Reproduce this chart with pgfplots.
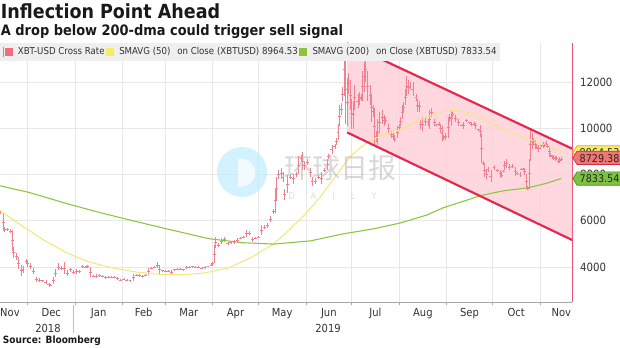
\documentclass[border=0pt]{standalone}
\usepackage{pgfplots}
\pgfplotsset{compat=1.18}
\usepackage{pgfplotstable}
\usepackage{fontspec}
\setmainfont{DejaVu Sans Condensed}
\newfontfamily\cjk{Noto Sans CJK SC}
\definecolor{gridc}{HTML}{E8E8E8}
\definecolor{barc}{HTML}{F08090}
\definecolor{chanfill}{HTML}{FFD0D8}
\definecolor{chanline}{HTML}{E2284E}
\definecolor{smay}{HTML}{F2E880}
\definecolor{smag}{HTML}{8CC43C}
\definecolor{legbg}{HTML}{EFEFEF}
\definecolor{txt}{HTML}{333333}
\definecolor{boxy}{HTML}{F6EC6A}
\definecolor{boxyd}{HTML}{C8B820}
\definecolor{boxr}{HTML}{F27474}
\definecolor{boxrd}{HTML}{C83040}
\definecolor{boxg}{HTML}{7CC242}
\definecolor{boxgd}{HTML}{4E8A20}

\pgfplotstableread{
x lo hi
-49 6280 6450
-47 5550 6350
-46 5500 5750
-44 5550 5700
-42 5450 5650
-41 4700 5600
-40 4400 4850
-38 4300 4600
-37 3900 4450
-35 3600 4100
-34 3750 4050
-32 4150 4350
-31 4000 4300
-29 3900 4150
-27 3700 3950
-25 3350 3550
-23 3350 3500
-21 3350 3450
-19 3250 3450
-17 3150 3300
-16 3180 3260
-14 3250 3550
-13 3550 3900
-11 3850 4150
-9 3850 4050
-7 3700 4200
-5 3600 3850
-3 3800 3950
-1 3700 3850
1 3700 3900
3 3750 3850
5 3950 4100
7 3950 4050
8 3950 4100
10 3550 4000
12 3550 3650
14 3500 3700
16 3580 3680
18 3550 3650
20 3480 3600
22 3520 3620
24 3530 3600
26 3500 3600
28 3420 3550
30 3400 3480
32 3420 3520
34 3400 3470
36 3380 3420
38 3380 3700
40 3600 3700
42 3580 3680
44 3550 3650
46 3600 3700
48 3650 3950
50 3900 4000
52 3950 4050
54 3950 4200
55 3700 4100
57 3800 3880
59 3800 3860
61 3800 3850
63 3700 3850
65 3850 3900
67 3880 3950
69 3850 3950
71 3850 3920
73 3900 4050
75 3950 4050
77 3980 4050
79 3970 4030
81 3950 4020
83 3900 4000
85 3900 4050
87 4000 4050
89 4050 4130
90 4080 4200
91 4150 4950
92 4800 5300
94 4850 5050
96 5000 5250
98 5100 5300
100 4950 5100
102 5000 5100
104 5000 5150
106 5050 5250
108 5200 5300
110 5250 5350
112 5300 5600
114 5400 5550
116 5100 5300
118 5200 5300
120 5250 5350
122 5400 5800
124 5650 5800
126 5700 5900
128 5950 6200
130 6300 6500
131 6350 7400
132 6900 7900
133 7800 8200
135 7800 8300
136 7700 8100
137 6900 7400
139 7200 8000
141 7800 8000
143 7600 8050
145 7900 8100
146 8050 8800
148 8550 8850
149 8200 9000
150 8200 8600
152 8400 8700
154 7900 8300
155 7500 7900
157 7600 7850
159 7800 8000
161 7600 8100
163 8100 8300
165 8200 8700
166 8700 8900
168 8900 9300
170 9100 9350
171 9300 9600
172 9500 10200
173 10100 11000
174 10600 11100
175 11200 11800
176 11400 13700
177 10200 13200
178 10100 12200
179 11500 12400
180 10800 12100
181 10000 11300
182 10000 11200
183 10800 11900
185 10900 11500
186 11000 11600
187 11200 11500
188 11200 12500
189 11600 12900
190 12000 13100
191 11200 12500
193 11000 11900
194 10300 11500
195 10500 11000
196 9300 10900
197 9400 9900
198 9300 10400
199 9800 10700
201 10200 10800
202 10100 10600
203 10200 10500
205 9800 10200
207 9600 9900
208 9500 9800
209 9400 9700
211 9600 10100
212 9900 10200
213 10100 10500
214 10400 11000
215 10700 11150
216 11000 11700
217 11400 12300
218 11500 12100
219 11700 12000
221 11400 12000
223 11200 11500
224 10700 11300
225 10700 11200
226 10000 10400
227 9900 10500
229 10100 10500
231 10100 10400
232 10000 10800
233 10500 10900
235 10100 10400
236 10100 10200
238 10100 10300
239 9800 10200
240 9450 10100
241 9500 9700
242 9500 9800
244 9600 10500
245 10300 10650
246 10100 10800
247 10500 10700
249 10300 10600
251 10100 10400
253 10100 10200
254 10000 10300
256 10300 10400
258 10200 10300
259 10100 10300
261 10100 10300
262 10000 10250
264 9900 10000
265 9650 10150
266 8500 9750
267 8400 8600
268 7900 8500
269 7800 8200
270 8100 8350
272 7700 8200
274 8200 8400
276 8100 8250
278 7900 8200
279 7850 8100
280 8100 8200
281 8200 8600
282 8300 8700
284 8200 8450
286 8300 8450
288 7950 8350
289 8000 8100
291 7900 8100
292 8200 8300
293 8200 8300
294 8000 8280
295 7400 8050
296 7350 7500
297 7400 8700
298 8600 10000
299 9100 9800
300 9300 9600
301 9100 9500
302 9100 9300
303 9000 9300
304 9100 9200
305 9200 9350
306 9150 9400
307 9200 9350
308 9300 9450
309 9150 9350
310 8750 9250
311 8750 8950
312 8700 8850
313 8650 8850
314 8600 8800
315 8650 8800
316 8500 8700
317 8500 8750
318 8600 8750
}\bars

\pgfplotstableread{
x v
-49 6450
-35 5800
-20 5150
-5 4600
10 4200
25 3950
40 3780
55 3680
70 3660
85 3740
100 3950
115 4400
130 5000
140 5600
150 6250
160 7000
170 7900
180 8800
190 9350
200 9700
213 9950
228 10450
241 10750
250 10780
260 10650
270 10300
280 9950
290 9700
300 9450
310 9200
318 8965
}\smaA

\pgfplotstableread{
x v
-49 7520
-30 7230
-5 6740
15 6380
38 6000
60 5650
88 5220
110 5050
130 4990
154 5130
175 5430
195 5650
213 5910
230 6250
241 6570
255 6870
265 7090
280 7300
296 7430
308 7620
318 7834
}\smaB

\newcommand{\valbox}[4]{%
  \path (#1) ++(0.6pt,0) coordinate (tip);
  \filldraw[fill=#2, draw=#3, line width=0.5pt] (tip) -- ++(3.2pt,5pt) -- ++(34pt,0) -- ++(0,-10pt) -- ++(-34pt,0) -- cycle;
  \node[anchor=west, inner sep=0pt, font=\fontsize{8}{9}\selectfont, text=black!85] at ([xshift=5pt,yshift=-0.2pt]tip) {#4};
}

\begin{document}
\begin{tikzpicture}
\useasboundingbox (0,0) rectangle (465pt,261pt);
\begin{axis}[
  at={(0pt,34.5pt)}, anchor=south west,
  width=429pt, height=194.25pt, scale only axis,
  xmin=-49, xmax=325, ymin=2480, ymax=13710,
  axis x line*=bottom, axis y line*=right,
  x axis line style={draw=black!35, line width=0.6pt, -},
  y axis line style={draw=chanline!80, line width=0.6pt, -},
  xtick={-31,0,31,59,90,120,151,181,212,243,273,304},
  xticklabels={},
  tick align=outside,
  xtick style={draw=black!35, line width=0.5pt},
  major tick length=2.5pt,
  extra x ticks={-42.5,-15.5,15.5,45,74.5,105,135.5,166,196.5,227.5,258,288.5,318},
  extra x tick labels={Nov,Dec,Jan,Feb,Mar,Apr,May,Jun,Jul,Aug,Sep,Oct,Nov},
  extra x tick style={grid=none, major tick length=0pt,
     tick label style={font=\fontsize{8.3}{9}\selectfont, text=txt, yshift=-1pt}},
  ytick={4000,6000,8000,10000,12000},
  ytick style={draw=none},
  yticklabel style={font=\fontsize{8.5}{9}\selectfont, text=txt, xshift=0pt},
  scaled y ticks=false,
  grid=major, major grid style={draw=gridc, line width=0.5pt},
  legend style={at={(0,1)}, anchor=north west, fill=legbg, draw=none,
     font=\fontsize{7.2}{8}\selectfont, text=txt, inner xsep=2pt, inner ysep=1.5pt,
     nodes={inner xsep=0.6pt, inner ysep=1.6pt},
     /tikz/every odd column/.append style={column sep=3.5pt},
     /tikz/every even column/.append style={column sep=0.5pt},
     legend cell align=left},
  legend columns=3,
  /pgf/number format/1000 sep={},
  /pgf/number format/assume math mode=true,
]
\addplot[fill=chanfill, draw=none, fill opacity=0.85, forget plot] coordinates {(178,13700) (325,9130) (325,5170) (178,9830)} -- cycle;

\addplot[barc, only marks, mark=-, mark size=1.1pt, mark options={line width=0.5pt},
  legend image code/.code={\draw[black!40,line width=0.6pt] (0pt,-3.5pt)--(0pt,3.5pt); \fill[barc!85!red] (1.6pt,-2.6pt) rectangle (6.6pt,2.6pt);},
  error bars/.cd, y dir=both, y explicit, error mark=none,
  error bar style={barc, line width=0.55pt}]
  table[x=x, y expr={(\thisrow{lo}+\thisrow{hi})/2}, y error expr={(\thisrow{hi}-\thisrow{lo})/2}] {\bars};
\addlegendentry{XBT-USD Cross Rate}
\addplot[smay, line width=0.8pt, no marks,
  legend image code/.code={\fill[smay!80!yellow] (0pt,-2.6pt) rectangle (5pt,2.6pt);}] table[x=x,y=v] {\smaA};
\addlegendentry{SMAVG (50)\hspace{3pt} on Close (XBTUSD) 8964.53}
\addplot[smag, line width=0.8pt, no marks,
  legend image code/.code={\fill[smag] (0pt,-2.6pt) rectangle (5pt,2.6pt);}] table[x=x,y=v] {\smaB};
\addlegendentry{SMAVG (200)\hspace{3pt} on Close (XBTUSD) 7833.54}

\addplot[chanline, line width=1.6pt, no marks, forget plot] coordinates {(178,13700) (325,9130)};
\addplot[chanline, line width=1.6pt, no marks, forget plot] coordinates {(178,9830) (325,5170)};

\coordinate (pA) at (axis cs:325,8964.53);
\coordinate (pR) at (axis cs:325,8729.38);
\coordinate (pG) at (axis cs:325,7833.54);
\end{axis}

% watermark
\begin{scope}[opacity=0.7]
\fill[blue!30!cyan!25] (181.5pt,132pt) circle (18.75pt);
\fill[white] (178.5pt,142pt) -- (181pt,142pt) arc (90:-90:10.5pt) -- (178.5pt,121pt) -- cycle;
\end{scope}
\begin{scope}[opacity=0.5]
\node[anchor=west, font=\cjk\fontsize{21}{22}\selectfont, text=black!30, inner sep=0pt] at (213pt,135pt) {环球日报};
\node[anchor=west, font=\fontsize{7}{8}\selectfont, text=black!25, inner sep=0pt] at (216pt,114pt) {D\hspace{12pt}A\hspace{12pt}I\hspace{12pt}L\hspace{12pt}Y};
\end{scope}

\valbox{pA}{boxy}{boxyd}{8964.53}
\valbox{pR}{boxr}{boxrd}{8729.38}
\valbox{pG}{boxg}{boxgd}{7833.54}

% titles
\node[anchor=base west, inner sep=0pt, font=\bfseries\fontsize{14.6}{16}\selectfont, text=black!90] at (0.5pt,247pt) {Inflection Point Ahead};
\node[anchor=base west, inner sep=0pt, font=\bfseries\fontsize{10.8}{12}\selectfont, text=black!90] at (0.5pt,234pt) {A drop below 200-dma could trigger sell signal};
\node[anchor=base west, inner sep=0pt, font=\bfseries\fontsize{7.5}{8}\selectfont, text=black!90] at (2pt,3pt) {Source: Bloomberg};
% years
\node[anchor=base, inner sep=0pt, font=\fontsize{8.3}{9}\selectfont, text=txt] at (36pt,11.5pt) {2018};
\node[anchor=base, inner sep=0pt, font=\fontsize{8.3}{9}\selectfont, text=txt] at (246pt,11.5pt) {2019};
\draw[black!25, line width=0.5pt] (54.75pt,32pt) -- (54.75pt,11pt);
\end{tikzpicture}
\end{document}
